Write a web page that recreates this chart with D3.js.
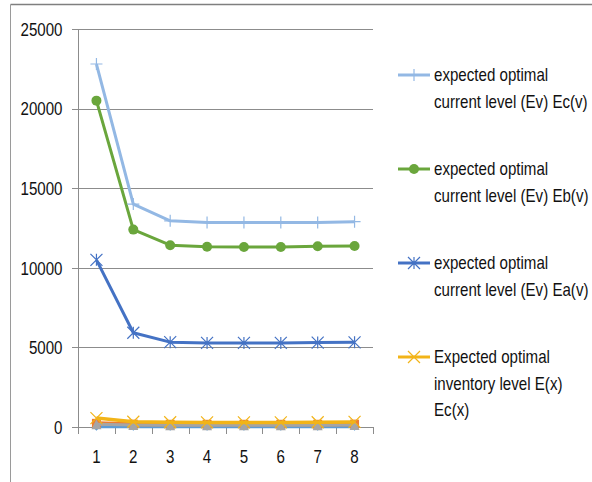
<!DOCTYPE html>
<html><head><meta charset="utf-8">
<script src="https://cdn.jsdelivr.net/npm/d3@7"></script>
<style>
html,body{margin:0;padding:0;background:#fff;}
text{font-family:"Liberation Sans",Arial,sans-serif;}
</style></head>
<body>
<svg id="chart" width="592" height="482"></svg>
<script>
const categories = ["1","2","3","4","5","6","7","8"];
const yTicks = [0,5000,10000,15000,20000,25000];
const seriesNames = ["Ea(x)","Eb(x)","Ec(x) 2","Expected optimal inventory level E(x) Ec(x)","expected optimal current level (Ev) Ea(v)","expected optimal current level (Ev) Eb(v)","expected optimal current level (Ev) Ec(v)"];
const seriesColors = ["#5B9BD5","#ED7D31","#A5A5A5","#F2B418","#4472C4","#6AA63C","#93B8E4"];
const seriesMarkers = ["diamond","square","triangle","x","asterisk","circle","plus"];
const valsS1 = [20,10,10,10,10,10,10,10];
const valsS2 = [230,180,170,170,170,170,170,180];
const valsS3 = [170,120,110,110,110,110,110,120];
const valsEcx = [560,330,300,290,290,290,300,320];
const valsEav = [10500,5920,5330,5280,5280,5280,5300,5320];
const valsEbv = [20500,12400,11420,11320,11310,11310,11350,11370];
const valsEcv = [22800,14000,12950,12850,12850,12850,12850,12900];
const seriesValues = [valsS1,valsS2,valsS3,valsEcx,valsEav,valsEbv,valsEcv];
const legendLabels = [
  ["expected optimal","current level (Ev) Ec(v)"],
  ["expected optimal","current level (Ev) Eb(v)"],
  ["expected optimal","current level (Ev) Ea(v)"],
  ["Expected optimal","inventory level E(x)","Ec(x)"]
];
const legendSeries = [6,5,4,3];

const svg = d3.select("#chart");
const W=592,H=482;
const gridC="#8c8c8c";
const SX = 0.84, FS = 18;
function narrowText(sel, tx, ty, anchor, str){
  return sel.append("text").attr("transform",`translate(${tx},${ty}) scale(${SX},1)`)
    .attr("text-anchor",anchor).attr("dy","0.35em").attr("font-size",FS).attr("fill","#111").text(str);
}
// frame
svg.append("line").attr("x1",10.5).attr("x2",W).attr("y1",4.5).attr("y2",4.5).attr("stroke","#7f7f7f").attr("stroke-width",1.3);
svg.append("line").attr("x1",10.5).attr("x2",10.5).attr("y1",4.5).attr("y2",H).attr("stroke","#9a9a9a").attr("stroke-width",1);

const x = d3.scaleBand().domain(categories).range([78,373]);
const y = d3.scaleLinear().domain([0,25000]).range([427,29]);

// gridlines
svg.append("g").selectAll("line").data(yTicks).join("line")
  .attr("x1",72).attr("x2",373).attr("y1",d=>Math.round(y(d))+0.5).attr("y2",d=>Math.round(y(d))+0.5)
  .attr("stroke",gridC).attr("stroke-width",1);
// y axis
const yAxis = d3.axisLeft(y).tickValues(yTicks).tickSize(0).tickFormat(()=>"");
const gy = svg.append("g").attr("transform","translate(78.5,0)").call(yAxis);
gy.select(".domain").attr("stroke",gridC).attr("d","M0,29V427");
gy.selectAll(".tick").each(function(d){
  narrowText(d3.select(this), -16, 0, "end", d3.format("d")(d));
});
// x axis
const xAxis = d3.axisBottom(x).tickSize(0).tickFormat(()=>"");
const gx = svg.append("g").attr("transform","translate(0,427.5)").call(xAxis);
gx.select(".domain").attr("stroke",gridC).attr("d","M78,0H373");
gx.selectAll(".tick").each(function(d){
  narrowText(d3.select(this), 0, 29, "middle", d);
});
const bounds = categories.map((c)=>x(c)).concat([x.range()[1]]);
svg.append("g").selectAll("line").data(bounds).join("line")
  .attr("x1",d=>Math.round(d)+0.5).attr("x2",d=>Math.round(d)+0.5).attr("y1",427).attr("y2",434)
  .attr("stroke",gridC);

const cx = c=>x(c)+x.bandwidth()/2;
const lineGen = d3.line().x((d,i)=>cx(categories[i])).y(d=>y(d));

function marker(g, type, color, mx, my, s){
  if(type==="circle") g.append("circle").attr("cx",mx).attr("cy",my).attr("r",s*0.5).attr("fill",color);
  else if(type==="square") g.append("rect").attr("x",mx-s/2).attr("y",my-s/2).attr("width",s).attr("height",s).attr("fill",color);
  else if(type==="diamond") g.append("path").attr("d",`M${mx},${my-s/2}L${mx+s/2},${my}L${mx},${my+s/2}L${mx-s/2},${my}Z`).attr("fill",color);
  else if(type==="triangle") g.append("path").attr("d",`M${mx},${my-s/2}L${mx+s/2},${my+s/2}L${mx-s/2},${my+s/2}Z`).attr("fill",color);
  else if(type==="plus") g.append("path").attr("d",`M${mx-s/2},${my}H${mx+s/2}M${mx},${my-s/2}V${my+s/2}`).attr("stroke",color).attr("stroke-width",1.2);
  else if(type==="x") g.append("path").attr("d",`M${mx-s/2},${my-s/2}L${mx+s/2},${my+s/2}M${mx+s/2},${my-s/2}L${mx-s/2},${my+s/2}`).attr("stroke",color).attr("stroke-width",1.2);
  else if(type==="asterisk") g.append("path").attr("d",`M${mx-s/2},${my-s/2}L${mx+s/2},${my+s/2}M${mx+s/2},${my-s/2}L${mx-s/2},${my+s/2}M${mx},${my-s/2}V${my+s/2}`).attr("stroke",color).attr("stroke-width",1.2);
}
const markerSize = [8,9,10,12,12,10,12];
const lineWidth = [3,4,3,3.5,3,3,3];
seriesValues.forEach((vals,si)=>{
  const g = svg.append("g");
  g.append("path").attr("d",lineGen(vals)).attr("fill","none").attr("stroke",seriesColors[si]).attr("stroke-width",lineWidth[si]).attr("stroke-linejoin","round");
  vals.forEach((v,i)=>marker(g, seriesMarkers[si], seriesColors[si], cx(categories[i]), y(v), markerSize[si]));
});

// legend
const legTop=[75,169,263,357];
legendSeries.forEach((si,k)=>{
  const g = svg.append("g");
  const ly = legTop[k];
  g.append("line").attr("x1",398).attr("x2",430).attr("y1",ly).attr("y2",ly).attr("stroke",seriesColors[si]).attr("stroke-width",3);
  marker(g, seriesMarkers[si], seriesColors[si], 414, ly, markerSize[si]);
  legendLabels[k].forEach((t,j)=>{
    narrowText(g, 434, ly+j*26.5, "start", t);
  });
});
</script>
</body></html>
